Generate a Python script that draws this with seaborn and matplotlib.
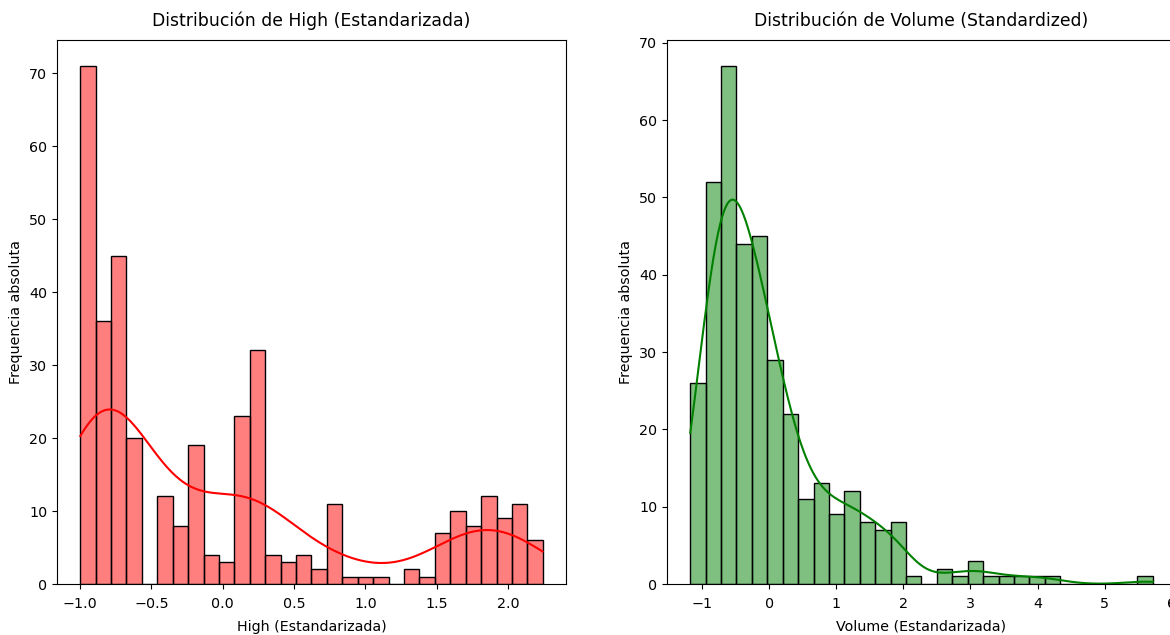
import numpy as np
import pandas as pd
import matplotlib
matplotlib.use("Agg")
import matplotlib.pyplot as plt
import seaborn as sns

# Histogram counts (30 bins each)
high_counts = [71, 36, 45, 20, 0, 12, 8, 19, 4, 3, 23, 32, 4, 3, 4,
               2, 11, 1, 1, 1, 0, 2, 1, 7, 10, 8, 12, 9, 11, 6]
high_range = (-1.0, 2.245)

volume_counts = [26, 52, 67, 44, 45, 29, 22, 11, 13, 9, 12, 8, 7, 8, 1,
                 0, 2, 1, 3, 1, 1, 1, 1, 1, 0, 0, 0, 0, 0, 1]
volume_range = (-1.18, 5.72)

titles = ["Distribución de High (Estandarizada)", "Distribución de Volume (Standardized)"]
xlabels = ["High (Estandarizada)", "Volume (Estandarizada)"]
ylabel = "Frequencia absoluta"


def expand(counts, rng):
    edges = np.linspace(rng[0], rng[1], len(counts) + 1)
    centers = (edges[:-1] + edges[1:]) / 2
    return np.repeat(centers, counts)


high = expand(high_counts, high_range)
volume = expand(volume_counts, volume_range)

plt.rcParams["font.size"] = 10.3
plt.rcParams["axes.titlesize"] = 12.4
plt.rcParams["axes.titlepad"] = 10
plt.rcParams["xtick.major.pad"] = 5.5
plt.rcParams["axes.labelpad"] = 4.0

fig = plt.figure(figsize=(11.7, 6.35), dpi=100)
W, H = 1170, 635
ax1 = fig.add_axes([57 / W, 51 / H, 509 / W, 544 / H])
ax2 = fig.add_axes([667 / W, 51 / H, 509 / W, 544 / H])

sns.histplot(x=high, bins=30, binrange=high_range, kde=True, color="red",
             kde_kws={"cut": 0.17}, ax=ax1)
sns.histplot(x=volume, bins=30, binrange=volume_range, kde=True, color="green",
             kde_kws={"cut": 0.37}, ax=ax2)

for ax, t, xl in zip([ax1, ax2], titles, xlabels):
    ax.set_title(t)
    ax.set_xlabel(xl, labelpad=6.5)
    ax.set_ylabel(ylabel)

fig.savefig("out.png", dpi=100)
